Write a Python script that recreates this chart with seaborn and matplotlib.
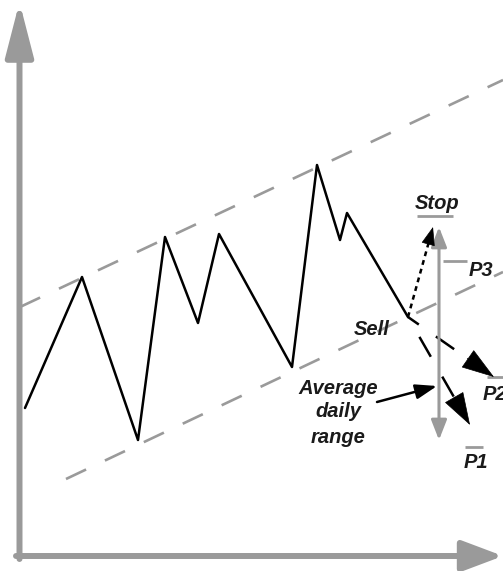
import matplotlib
matplotlib.use("Agg")
import matplotlib.pyplot as plt
import seaborn as sns
import pandas as pd

# chart drawn in picture space: x to the right, y downward (0..571)
price_x = [25, 82, 138, 165, 198, 219, 292, 317, 340, 347, 408]
price_y = [408, 277, 440, 237, 323, 234, 367, 165, 240, 213, 317]

# trend channel, two parallel dashed lines
upper_x = [20, 503]
upper_y = [307, 80]
lower_x = [66, 503]
lower_y = [479, 272]

sell_pt = (408, 317)
stop_tip = (433, 227)
p2_tip = (494, 377)
p1_tip = (470, 425)
range_top = 227
range_bottom = 440
range_x = 439

labels = ["Stop", "P3", "Sell", "P2", "P1"]
label_x = [437, 481, 372, 483, 476]
label_y = [209, 276, 335, 400, 468]
label_ha = ["center", "center", "center", "left", "center"]

# small gray marks next to targets (x0, x1, y)
marks = [(417, 453, 216), (443, 467, 261), (487, 503, 377), (465, 483, 447)]

avg_lines = ["Average", "daily", "range"]
avg_x = 338
avg_y = [394, 417, 443]

gray = "#9a9a9a"
font = ["Liberation Sans", "DejaVu Sans"]

sns.set_style("white")
plt.rcParams["lines.scale_dashes"] = False
fig = plt.figure(figsize=(5.03, 5.71), dpi=100)
ax = fig.add_axes([0, 0, 1, 1])
ax.set_xlim(0, 503)
ax.set_ylim(571, 0)
ax.axis("off")

# channel lines
for xs, ys in [(upper_x, upper_y), (lower_x, lower_y)]:
    ax.plot(xs, ys, color=gray, lw=1.9, dashes=(16, 15), solid_capstyle="butt")

# price line
df = pd.DataFrame({"x": price_x, "y": price_y})
sns.lineplot(data=df, x="x", y="y", sort=False, color="black", lw=1.8, ax=ax)

# axes arrows
ax.annotate("", xy=(19.5, 2), xytext=(19.5, 559),
            arrowprops=dict(arrowstyle="-|>,head_length=33,head_width=8.5",
                            mutation_scale=1, color=gray, lw=4.3,
                            shrinkA=0, shrinkB=0))
ax.annotate("", xy=(503, 556), xytext=(16, 556),
            arrowprops=dict(arrowstyle="-|>,head_length=25,head_width=9.4",
                            mutation_scale=1, color=gray, lw=4.3,
                            shrinkA=0, shrinkB=0))

# average daily range arrow
ax.annotate("", xy=(range_x, range_top), xytext=(range_x, range_bottom),
            arrowprops=dict(arrowstyle="<|-|>,head_length=12,head_width=4.7",
                            mutation_scale=1, color=gray, lw=2.2,
                            shrinkA=0, shrinkB=0))


def dashed_arrow(start, tip, dashes, head_len, head_w):
    dx, dy = tip[0] - start[0], tip[1] - start[1]
    d = (dx ** 2 + dy ** 2) ** 0.5
    hl_px = head_len * 100 / 72
    base = (tip[0] - dx / d * hl_px, tip[1] - dy / d * hl_px)
    ln, = ax.plot([start[0], base[0]], [start[1], base[1]], color="black",
                  lw=1.8, solid_capstyle="butt")
    ln.set_linestyle(dashes)
    back = (tip[0] - dx / d * (hl_px + 2), tip[1] - dy / d * (hl_px + 2))
    ax.annotate("", xy=tip, xytext=back,
                arrowprops=dict(arrowstyle=f"-|>,head_length={head_len},head_width={head_w}",
                                mutation_scale=1, color="black", lw=0.5,
                                shrinkA=0, shrinkB=0))


dashed_arrow(sell_pt, stop_tip, (0, (3.5, 3)), 12, 4.5)
dashed_arrow(sell_pt, p2_tip, (6.5, (16, 15)), 22, 7.2)
dashed_arrow(sell_pt, p1_tip, (16.5, (16.5, 16.5)), 22, 7.2)

# pointer from the text to the range bar
ax.annotate("", xy=(437, 386), xytext=(377, 402),
            arrowprops=dict(arrowstyle="-|>,head_length=13,head_width=4.5",
                            mutation_scale=1, color="black", lw=1.8,
                            shrinkA=0, shrinkB=0))

for x0, x1, y in marks:
    ax.plot([x0, x1], [y, y], color=gray, lw=2.0, solid_capstyle="butt")

for t, x, y, ha in zip(labels, label_x, label_y, label_ha):
    ax.text(x, y, t, ha=ha, va="baseline", fontsize=14.5, fontweight="bold",
            fontstyle="italic", family=font, color="#1a1a1a")

for t, y in zip(avg_lines, avg_y):
    ax.text(avg_x, y, t, ha="center", va="baseline", fontsize=14.5,
            fontweight="bold", fontstyle="italic", family=font, color="#1a1a1a")

fig.savefig("out.png", dpi=100)
